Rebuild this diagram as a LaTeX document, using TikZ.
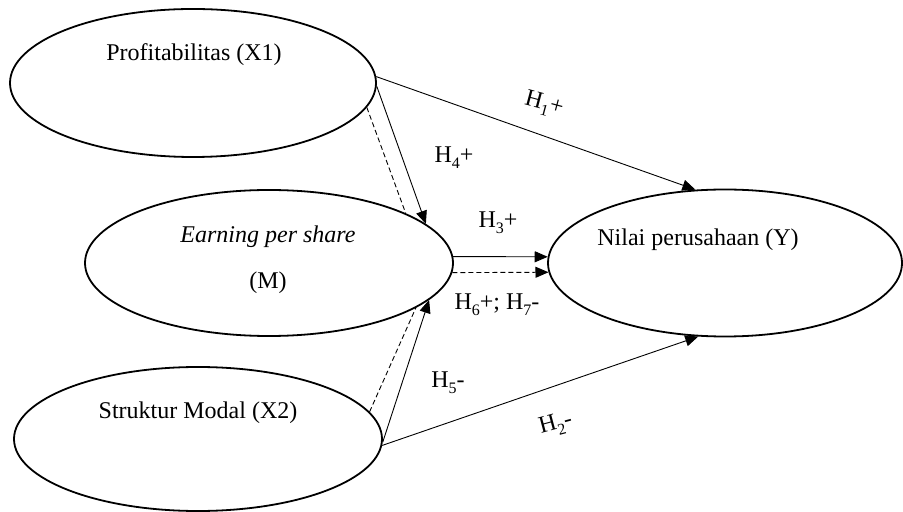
\documentclass[tikz,border=0pt]{standalone}
\usepackage{fontspec}
\setmainfont{Liberation Serif}
\usetikzlibrary{arrows.meta, shapes.geometric}

\newcommand\hsub[1]{\raisebox{-0.55ex}{\fontsize{8}{8}\selectfont #1}}

\begin{document}
\begin{tikzpicture}[x=0.5pt, y=-0.5pt,
    var/.style={draw, ellipse, line width=0.9pt, inner sep=0pt},
    path/.style={line width=0.45pt, -{Triangle[length=6.5pt, width=5.5pt]}},
    side/.style={line width=0.45pt, dashed, dash pattern=on 2.5pt off 1.5pt},
    hyp/.style={font=\fontsize{12}{14}\selectfont}]
        \useasboundingbox (0,0) rectangle (903,512);
        % variables
        \node [var, minimum width=183pt, minimum height=74pt] (x1) at (193,83) {};
        \node [var, minimum width=184pt, minimum height=73pt] (m) at (269,263) {};
        \node [var, minimum width=184pt, minimum height=72pt] (x2) at (198,439) {};
        \node [var, minimum width=177pt, minimum height=73.5pt] (y) at (725,263) {};
        \node [hyp] at (194,55) {Profitabilitas (X1)};
        \node [hyp] at (268,237) {\itshape Earning per share};
        \node [hyp] at (268,283) {(M)};
        \node [hyp] at (198,413) {Struktur Modal (X2)};
        \node [hyp] at (698,240) {Nilai perusahaan (Y)};
        % direct paths
        \draw [path] (x1.2) -- (y.112);
        \draw [path] (x2.-2) -- (y.250);
        \draw [path] (m.2) -- (y.178);
        \draw [path] (x1.-1) -- (m.14);
        \draw [path] (x2.-1) -- (m.-13);
        % mediated paths
        \draw [side] (x1.-8) -- (m.20);
        \draw [side] (x2.9) -- (m.-17);
        \draw [side, -{Triangle[length=6.5pt, width=5.5pt]}] (m.-3) -- (y.183);
        % labels
        \node [hyp, rotate=-15] at (544,105) {H\hsub{1}+};
        \node [hyp] at (454,158) {H\hsub{4}+};
        \node [hyp] at (498,223) {H\hsub{3}+};
        \node [hyp] at (497,305) {H\hsub{6}+; H\hsub{7}-};
        \node [hyp] at (448,383) {H\hsub{5}-};
        \node [hyp, rotate=15] at (556,425) {H\hsub{2}-};
    \end{tikzpicture}
\end{document}
